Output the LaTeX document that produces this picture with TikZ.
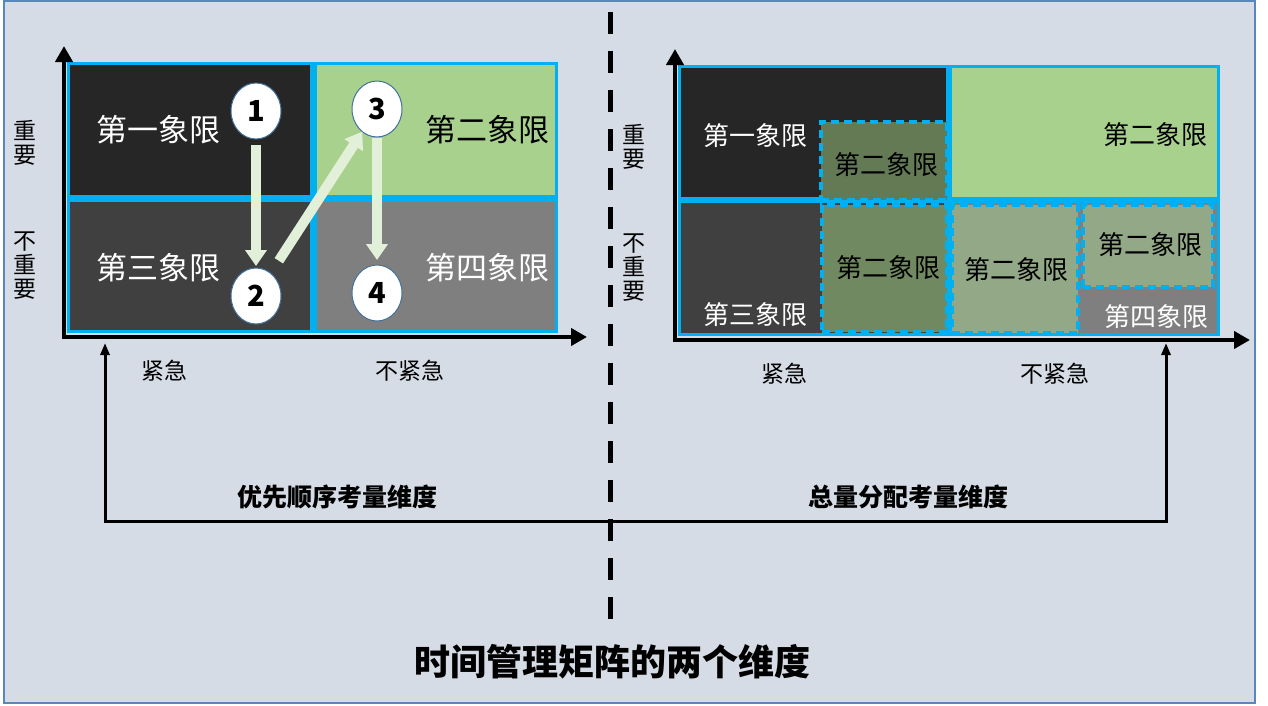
\documentclass[tikz,border=0pt]{standalone}
\usepackage{fontspec}
\setmainfont{Noto Sans CJK SC}
\usepackage{tikz}
\usetikzlibrary{shapes.geometric, arrows.meta}

\definecolor{bg}{HTML}{D6DCE5}
\definecolor{frame}{HTML}{5A86BE}
\definecolor{cyanb}{HTML}{00B0F0}
\definecolor{q1}{HTML}{262626}
\definecolor{q2}{HTML}{A9D18E}
\definecolor{q3}{HTML}{404040}
\definecolor{q4}{HTML}{7F7F7F}
\definecolor{olA}{HTML}{637A55}
\definecolor{olB}{HTML}{718960}
\definecolor{olC}{HTML}{93A886}
\definecolor{arrg}{HTML}{E2F0D9}
\definecolor{circb}{HTML}{41719C}

\begin{document}
\begin{tikzpicture}[x=1pt, y=-1pt,
    cell/.style = {rectangle, inner sep=0pt, outer sep=0pt},
    sub/.style = {rectangle, inner sep=0pt, draw=cyanb, line width=3.5pt, dash pattern=on 8pt off 5pt},
    num/.style = {draw=circb, line width=1pt, fill=white, ellipse, minimum width=50pt, minimum height=56pt, inner sep=0pt, outer sep=0pt, font=\bfseries\fontsize{29}{29}\selectfont},
    quad/.style = {inner sep=0pt, font=\fontsize{31}{31}\selectfont},
    quadr/.style = {inner sep=0pt, font=\fontsize{26}{26}\selectfont},
    axl/.style = {inner sep=0pt, align=center, font=\fontsize{23}{24}\selectfont},
    dimtxt/.style = {inner sep=0pt, font=\bfseries\fontsize{25}{25}\selectfont},
    axes/.style = {line width=4.5pt, {Triangle[width=17pt,length=16pt]}-{Triangle[width=17pt,length=16pt]}},
    bracket/.style = {line width=3pt, {Triangle[width=9pt,length=12pt]}-{Triangle[width=9pt,length=12pt]}},
    fat/.style = {line width=10pt, draw=arrg, -{Triangle[width=21pt,length=16pt]}}]
    \useasboundingbox (0,0) rectangle (1268,705);
    \draw[frame, line width=1.5pt, fill=bg] (4,1) rectangle (1255,703);

    \fill[cyanb] (67,62) rectangle (558,333);
    \node[cell, fill=q1, minimum width=240, minimum height=130] at (190,130) (L1) {};
    \node[cell, fill=q2, minimum width=238, minimum height=130] at (436,130) (L2) {};
    \node[cell, fill=q3, minimum width=240, minimum height=128] at (190,266) (L3) {};
    \node[cell, fill=q4, minimum width=238, minimum height=128] at (436,266) (L4) {};

    \coordinate (Ly) at (64,46);
    \coordinate (Lo) at (64,337);
    \coordinate (Lx) at (587,337);
    \draw[axes] (Ly) -- (Lo) -- (Lx);

    \node[quad, white] at (158,130) (L1t) {第一象限};
    \node[quad] at (487,130) (L2t) {第二象限};
    \node[quad, white] at (158,268) (L3t) {第三象限};
    \node[quad, white] at (487,268) (L4t) {第四象限};

    \node[num] at (256,111) (c1) {1};
    \node[num] at (256,296) (c2) {2};
    \node[num] at (377,109) (c3) {3};
    \node[num] at (377,293) (c4) {4};

    \draw[fat, shorten <=6pt, shorten >=2pt] (c1) -- (c2);
    \draw[fat, shorten <=15pt] (c2) -- (c3);
    \draw[fat, shorten <=1pt, shorten >=5pt] (c3) -- (c4);

    \node[axl] at (25,143) (Lim) {重\\要};
    \node[axl] at (25,266) (Lnim) {不\\重\\要};
    \node[axl] at (164,371) (Lur) {紧急};
    \node[axl] at (410,371) (Lnur) {不紧急};

    \fill[cyanb] (678,65) rectangle (1220,336);
    \node[cell, fill=q1, minimum width=265, minimum height=129] at (813.5,132.5) (R1) {};
    \node[cell, fill=q2, minimum width=265, minimum height=129] at (1084.5,132.5) (R2) {};
    \node[cell, fill=q3, minimum width=265, minimum height=130] at (813.5,268) (R3) {};
    \node[cell, fill=q4, minimum width=265, minimum height=130] at (1084.5,268) (R4) {};
    \node[sub, fill=olA, minimum width=126, minimum height=78] at (884,161) (SA) {};
    \node[sub, fill=olB, minimum width=125, minimum height=127] at (884.5,268.5) (SB) {};
    \node[sub, fill=olC, minimum width=126, minimum height=128] at (1015,269) (SC) {};
    \node[sub, fill=olC, minimum width=130, minimum height=82] at (1148,246) (SD) {};

    \coordinate (Ry) at (675,49);
    \coordinate (Ro) at (675,340);
    \coordinate (Rx) at (1250,340);
    \draw[axes] (Ry) -- (Ro) -- (Rx);

    \node[quadr, white] at (755,136) (R1t) {第一象限};
    \node[quadr] at (886,165) (SAt) {第二象限};
    \node[quadr] at (1155,135) (R2t) {第二象限};
    \node[quadr, white] at (755,315) (R3t) {第三象限};
    \node[quadr] at (888,268) (SBt) {第二象限};
    \node[quadr] at (1016,270) (SCt) {第二象限};
    \node[quadr] at (1150,245) (SDt) {第二象限};
    \node[quadr, white] at (1156,317) (R4t) {第四象限};

    \node[axl] at (634,147) (Rim) {重\\要};
    \node[axl] at (634,268) (Rnim) {不\\重\\要};
    \node[axl] at (784,374) (Rur) {紧急};
    \node[axl] at (1055,374) (Rnur) {不紧急};

    \draw[line width=5pt, dash pattern=on 22pt off 17pt] (610,12) coordinate (d1) -- (610,625) coordinate (d2);

    \coordinate (bl1) at (105,343);
    \coordinate (bl2) at (105,521);
    \coordinate (br2) at (1166,521);
    \coordinate (br1) at (1166,343);
    \draw[bracket] (bl1) -- (bl2) -- (br2) -- (br1);

    \node[dimtxt] at (337,497) (D1) {优先顺序考量维度};
    \node[dimtxt] at (908,497) (D2) {总量分配考量维度};
    \node[inner sep=0pt, font=\bfseries\fontsize{36}{36}\selectfont] at (612,662) (T) {时间管理矩阵的两个维度};
\end{tikzpicture}
\end{document}
